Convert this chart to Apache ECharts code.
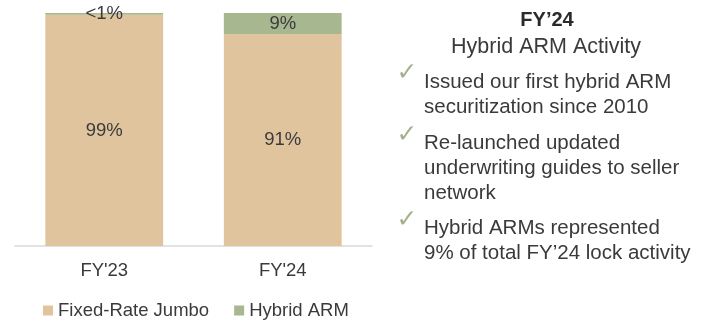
<!DOCTYPE html>
<html><head><meta charset="utf-8">
<script src="https://cdn.jsdelivr.net/npm/echarts@6/dist/echarts.min.js"></script>
<style>html,body{margin:0;padding:0;background:#fff}#c{width:709px;height:321px}</style>
</head><body><div id="c"></div>
<script>
const categories = ["FY'23", "FY'24"];
const fixedRate = [99.2, 91];
const hybridArm = [0.8, 9];
const fixedLabels = ['99%', '91%'];
const hybridLabels = ['<1%', '9%'];
const seriesNames = ['Fixed-Rate Jumbo', 'Hybrid ARM'];
const panelTitle = "FY\u201924";
const panelSubtitle = 'Hybrid ARM Activity';
const bullets = [
  ['Issued our first hybrid ARM', 'securitization since 2010'],
  ['Re-launched updated', 'underwriting guides to seller', 'network'],
  ['Hybrid ARMs represented', "9% of total FY\u201924 lock activity"]
];

const FONT = '"Liberation Sans", Arial, sans-serif';
const TXT = '#3a3a3a';
const chart = echarts.init(document.getElementById('c'));

const graphics = [
  {type:'text', style:{text:panelTitle, x:547, y:20, align:'center', verticalAlign:'middle', font:'bold 20px ' + FONT, fill:'#2a2a2a'}},
  {type:'text', style:{text:panelSubtitle, x:546, y:47, align:'center', verticalAlign:'middle', font:'21.5px ' + FONT, fill:TXT}}
];
const bulletTops = [82, 143, 228];
const checkTops = [73, 135, 220];
bullets.forEach((lines, i) => {
  graphics.push({type:'text', style:{text:'\u2713', x:407, y:checkTops[i], align:'center', verticalAlign:'middle', font:'25px "DejaVu Sans"', fill:'#a4b08c'}});
  lines.forEach((ln, j) => {
    graphics.push({type:'text', style:{text:ln, x:424, y:bulletTops[i] + j*25, align:'left', verticalAlign:'middle', font:'20.5px ' + FONT, fill:TXT}});
  });
});

chart.setOption({
  animation:false,
  textStyle:{fontFamily:FONT},
  grid:{left:15, right:337, top:13, bottom:75},
  xAxis:{type:'category', data:categories,
    axisLine:{lineStyle:{color:'#d9d9d9', width:1.5}}, axisTick:{show:false},
    axisLabel:{color:TXT, fontSize:18.5, margin:15, fontFamily:FONT}},
  yAxis:{type:'value', min:0, max:100, show:false, splitLine:{show:false}},
  legend:{left:38, top:296, itemWidth:10, itemHeight:10, itemGap:25, icon:'rect',
    textStyle:{color:TXT, fontSize:18.5, fontFamily:FONT},
    data:seriesNames},
  series:[
    {name:seriesNames[0], type:'bar', stack:'s', data:fixedRate, barWidth:'66%',
      itemStyle:{color:'#dfc49d'},
      label:{show:true, position:'inside', color:TXT, fontSize:18.5, fontFamily:FONT,
        formatter:p => fixedLabels[p.dataIndex]}},
    {name:seriesNames[1], type:'bar', stack:'s', data:hybridArm, barWidth:'66%',
      itemStyle:{color:'#a7b78f'},
      label:{show:true, position:'inside', color:TXT, fontSize:18.5, fontFamily:FONT,
        formatter:p => hybridLabels[p.dataIndex]}}
  ],
  graphic:graphics
});
</script></body></html>
